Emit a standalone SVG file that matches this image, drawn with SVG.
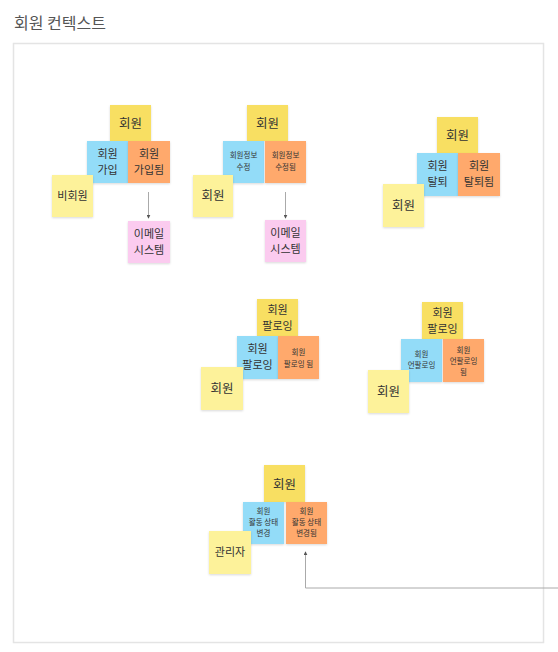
<svg xmlns="http://www.w3.org/2000/svg" width="558" height="652" viewBox="0 0 558 652">
  <defs>
    <filter id="shadow" x="-10%" y="-10%" width="130%" height="130%">
      <feDropShadow dx="0" dy="1" stdDeviation="0.8" flood-color="#000" flood-opacity="0.15"/>
    </filter>
    <marker id="arrow" viewBox="0 0 6 6" refX="5" refY="3" markerWidth="4" markerHeight="4" orient="auto-start-reverse">
      <path d="M0,0 L6,3 L0,6 z" fill="#555"/>
    </marker>
    <style>
      .title { font-family: "Noto Sans CJK KR", "Noto Sans", sans-serif; font-size: 16px; fill: #555; }
      .frame { fill: #fff; stroke: #e4e4e4; stroke-width: 1.5; }
      .note { filter: url(#shadow); }
      .event { fill: #f8df62; }
      .actor { fill: #fdf29a; }
      .command { fill: #93dcf8; }
      .done { fill: #ffa96c; }
      .system { fill: #fbcbef; }
      text.t { font-family: "Noto Sans CJK KR", "Noto Sans", sans-serif; fill: #333; text-anchor: middle; }
      .lg { font-size: 12.5px; }
      .md { font-size: 11px; }
      .sm { font-size: 7.5px; }
      .conn { fill: none; stroke: #aaa; stroke-width: 1; }
    </style>
  </defs>

  <rect width="558" height="652" fill="#fff"/>
  <text class="title" x="14" y="29">회원 컨텍스트</text>
  <rect class="frame" x="13.5" y="43.5" width="530" height="599"/>

  <!-- 회원 가입 -->
  <g id="signup-member"><rect class="note event" x="110" y="105" width="41" height="36"/><text class="t lg" x="130.5" y="128">회원</text></g>
  <g id="signup-cmd"><rect class="note command" x="87" y="141" width="41" height="42"/><text class="t md" x="107.5" y="158">회원</text><text class="t md" x="107.5" y="174">가입</text></g>
  <g id="signup-done"><rect class="note done" x="128" y="141" width="42" height="42"/><text class="t md" x="149" y="158">회원</text><text class="t md" x="149" y="174">가입됨</text></g>
  <g id="signup-actor"><rect class="note actor" x="52" y="175" width="41" height="42"/><text class="t md" x="72.5" y="200">비회원</text></g>
  <g id="signup-mail"><rect class="note system" x="128" y="221" width="42" height="42"/><text class="t md" x="149" y="238">이메일</text><text class="t md" x="149" y="254">시스템</text></g>

  <!-- 회원정보 수정 -->
  <g id="edit-member"><rect class="note event" x="247" y="105" width="41" height="36"/><text class="t lg" x="267.5" y="128">회원</text></g>
  <g id="edit-cmd"><rect class="note command" x="223" y="141" width="41" height="42"/><text class="t sm" x="243.5" y="158">회원정보</text><text class="t sm" x="243.5" y="170">수정</text></g>
  <g id="edit-done"><rect class="note done" x="265" y="141" width="41" height="42"/><text class="t sm" x="285.5" y="158">회원정보</text><text class="t sm" x="285.5" y="170">수정됨</text></g>
  <g id="edit-actor"><rect class="note actor" x="193" y="175" width="40" height="42"/><text class="t lg" x="213" y="200">회원</text></g>
  <g id="edit-mail"><rect class="note system" x="265" y="220" width="41" height="42"/><text class="t md" x="285.5" y="237">이메일</text><text class="t md" x="285.5" y="253">시스템</text></g>

  <!-- 회원 탈퇴 -->
  <g id="leave-member"><rect class="note event" x="437" y="117" width="41" height="36"/><text class="t lg" x="457.5" y="140">회원</text></g>
  <g id="leave-cmd"><rect class="note command" x="417" y="153" width="41" height="43"/><text class="t md" x="437.5" y="170">회원</text><text class="t md" x="437.5" y="186">탈퇴</text></g>
  <g id="leave-done"><rect class="note done" x="458" y="153" width="42" height="43"/><text class="t md" x="479" y="170">회원</text><text class="t md" x="479" y="186">탈퇴됨</text></g>
  <g id="leave-actor"><rect class="note actor" x="383" y="184" width="41" height="43"/><text class="t lg" x="403.5" y="210">회원</text></g>

  <!-- 회원 팔로잉 -->
  <g id="follow-member"><rect class="note event" x="257" y="299" width="41" height="37"/><text class="t md" x="277.5" y="314">회원</text><text class="t md" x="277.5" y="330">팔로잉</text></g>
  <g id="follow-cmd"><rect class="note command" x="237" y="336" width="41" height="43"/><text class="t md" x="257.5" y="353">회원</text><text class="t md" x="257.5" y="369">팔로잉</text></g>
  <g id="follow-done"><rect class="note done" x="278" y="336" width="41" height="43"/><text class="t sm" x="298.5" y="355">회원</text><text class="t sm" x="298.5" y="367">팔로잉 됨</text></g>
  <g id="follow-actor"><rect class="note actor" x="201" y="367" width="42" height="43"/><text class="t lg" x="222" y="393">회원</text></g>

  <!-- 회원 언팔로잉 -->
  <g id="unfollow-member"><rect class="note event" x="422" y="302" width="41" height="37"/><text class="t md" x="442.5" y="317">회원</text><text class="t md" x="442.5" y="333">팔로잉</text></g>
  <g id="unfollow-cmd"><rect class="note command" x="401" y="339" width="41" height="43"/><text class="t sm" x="421.5" y="357">회원</text><text class="t sm" x="421.5" y="368">언팔로잉</text></g>
  <g id="unfollow-done"><rect class="note done" x="443" y="339" width="41" height="43"/><text class="t sm" x="463.5" y="353">회원</text><text class="t sm" x="463.5" y="364">언팔로잉</text><text class="t sm" x="463.5" y="375">됨</text></g>
  <g id="unfollow-actor"><rect class="note actor" x="368" y="370" width="41" height="43"/><text class="t lg" x="388.5" y="396">회원</text></g>

  <!-- 회원 활동 상태 변경 -->
  <g id="status-member"><rect class="note event" x="264" y="465" width="41" height="37"/><text class="t lg" x="284.5" y="489">회원</text></g>
  <g id="status-cmd"><rect class="note command" x="243" y="502" width="41" height="42"/><text class="t sm" x="263.5" y="514">회원</text><text class="t sm" x="263.5" y="525">활동 상태</text><text class="t sm" x="263.5" y="536">변경</text></g>
  <g id="status-done"><rect class="note done" x="286" y="502" width="41" height="42"/><text class="t sm" x="306.5" y="514">회원</text><text class="t sm" x="306.5" y="525">활동 상태</text><text class="t sm" x="306.5" y="536">변경됨</text></g>
  <g id="status-actor"><rect class="note actor" x="209" y="531" width="42" height="43"/><text class="t md" x="230" y="556">관리자</text></g>

  <!-- connectors -->
  <g id="connectors">
    <path class="conn" d="M148.5,192 V218" marker-end="url(#arrow)"/>
    <path class="conn" d="M285.5,192 V218" marker-end="url(#arrow)"/>
    <path class="conn" d="M558,588 H305.5 V552" marker-end="url(#arrow)"/>
  </g>
</svg>
